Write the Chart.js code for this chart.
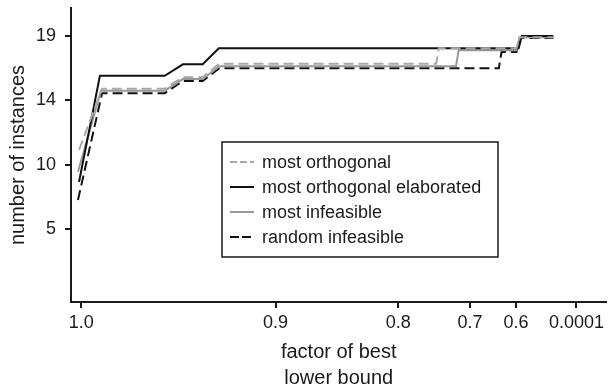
<!DOCTYPE html>
<html>
<head>
<meta charset="utf-8">
<script src="https://cdn.jsdelivr.net/npm/chart.js@4/dist/chart.umd.min.js"></script>
<style>
  html, body { margin: 0; padding: 0; background: #fff; }
  canvas { display: block; }
</style>
</head>
<body>
<canvas id="chart" width="608" height="388"></canvas>
<script>
// x axis: relative position along the bound-factor axis (0..100), labelled with factors
const xTickPos = [1.9, 38.2, 61.1, 74.5, 83.1, 94.4];
const xTickLabels = ['1.0', '0.9', '0.8', '0.7', '0.6', '0.0001'];

// y axis: evenly spaced tick rows labelled with instance counts
const yTickPos = [10, 20, 30, 40];
const yTickLabels = ['5', '10', '14', '19'];

// most orthogonal (grey, dashed)
const orthX = [1.5, 5.8, 17.5, 20.9, 24.6, 27.7, 68.2, 68.7, 83.2, 83.8, 90.1];
const orthY = [22.3, 31.8, 31.8, 33.6, 33.6, 35.7, 35.7, 38.1, 38.1, 39.8, 39.8];

// most orthogonal elaborated (black, solid)
const elabX = [1.5, 5.4, 17.5, 20.9, 24.6, 27.6, 83.6, 84.2, 90.1];
const elabY = [17.3, 33.8, 33.8, 35.6, 35.6, 38.1, 38.1, 40.0, 40.0];

// most infeasible (grey, solid)
const infX = [1.3, 5.6, 17.5, 20.9, 24.6, 27.7, 71.9, 72.4, 83.2, 83.8, 90.1];
const infY = [18.9, 31.5, 31.5, 33.3, 33.3, 35.3, 35.3, 37.8, 37.8, 39.8, 39.8];

// random infeasible (black, dashed)
const randX = [1.3, 5.8, 17.5, 20.9, 24.6, 27.7, 79.9, 80.4, 83.2, 83.8, 90.1];
const randY = [14.5, 31.1, 31.1, 33.0, 33.0, 35.0, 35.0, 37.5, 37.5, 39.7, 39.7];

const toPoints = (xs, ys) => xs.map((x, i) => ({ x: x, y: ys[i] }));

const INK = '#1a1a1a';
Chart.defaults.font.family = "'Liberation Sans', Arial, Helvetica, sans-serif";
Chart.defaults.color = INK;

// boxed legend drawn inside the plot area
const boxLegend = {
    id: 'boxLegend',
    afterDatasetsDraw(chart) {
        const { ctx, chartArea } = chart;
        const left = chartArea.left + 151;
        const top = chartArea.top + 134;
        const w = 276, h = 115;
        ctx.save();
        ctx.fillStyle = '#fff';
        ctx.fillRect(left, top, w, h);
        ctx.strokeStyle = INK;
        ctx.lineWidth = 1.5;
        ctx.strokeRect(left, top, w, h);
        ctx.font = "18px 'Liberation Sans', Arial, sans-serif";
        ctx.textBaseline = 'middle';
        ctx.fillStyle = INK;
        chart.data.datasets.forEach((ds, i) => {
            const y = top + 20 + i * 25;
            ctx.beginPath();
            ctx.setLineDash(ds.legendDash || []);
            ctx.strokeStyle = ds.borderColor;
            ctx.lineWidth = ds.borderWidth;
            ctx.moveTo(left + 8, y);
            ctx.lineTo(left + 32, y);
            ctx.stroke();
            ctx.setLineDash([]);
            ctx.fillText(ds.label, left + 40, y + 1);
        });
        ctx.restore();
    }
};

new Chart(document.getElementById('chart'), {
    type: 'line',
    data: {
        datasets: [
            {
                label: 'most orthogonal',
                data: toPoints(orthX, orthY),
                borderColor: '#a8a8a8',
                borderDash: [10, 5],
                legendDash: [7, 3],
                borderWidth: 2
            },
            {
                label: 'most orthogonal elaborated',
                data: toPoints(elabX, elabY),
                borderColor: '#111111',
                borderWidth: 2
            },
            {
                label: 'most infeasible',
                data: toPoints(infX, infY),
                borderColor: '#989898',
                borderWidth: 2
            },
            {
                label: 'random infeasible',
                data: toPoints(randX, randY),
                borderColor: '#111111',
                borderDash: [10, 5],
                legendDash: [9, 3],
                borderWidth: 2
            }
        ]
    },
    options: {
        responsive: false,
        animation: false,
        layout: { padding: { top: 8, right: 0, left: 0, bottom: 0 } },
        elements: {
            point: { radius: 0 },
            line: { tension: 0, borderCapStyle: 'butt' }
        },
        plugins: {
            legend: { display: false },
            tooltip: { enabled: false }
        },
        scales: {
            x: {
                type: 'linear',
                min: 0,
                max: 100,
                afterBuildTicks: (scale) => {
                    scale.ticks = xTickPos.map(v => ({ value: v }));
                },
                afterFit: (scale) => { scale.height = 86; },
                ticks: {
                    autoSkip: false,
                    maxRotation: 0,
                    padding: 4,
                    font: { size: 18 },
                    callback: (value, index) => xTickLabels[index]
                },
                grid: {
                    drawOnChartArea: false,
                    drawTicks: true,
                    tickLength: 6,
                    color: INK,
                    lineWidth: 2
                },
                border: { display: true, color: INK, width: 2 },
                title: {
                    display: true,
                    text: ['factor of best', 'lower bound'],
                    font: { size: 20, lineHeight: 1.3 },
                    padding: { top: 0, bottom: -3 }
                }
            },
            y: {
                type: 'linear',
                min: -1.35,
                max: 44.35,
                afterBuildTicks: (scale) => {
                    scale.ticks = yTickPos.map(v => ({ value: v }));
                },
                afterFit: (scale) => {
                    scale.width = 71;
                    scale.paddingTop = 0;
                    scale.paddingBottom = 0;
                },
                ticks: {
                    autoSkip: false,
                    padding: 9,
                    font: { size: 18 },
                    callback: (value, index) => yTickLabels[index]
                },
                grid: {
                    drawOnChartArea: false,
                    drawTicks: true,
                    tickLength: 6,
                    color: INK,
                    lineWidth: 2
                },
                border: { display: true, color: INK, width: 2 },
                title: {
                    display: true,
                    text: 'number of instances',
                    font: { size: 20 },
                    padding: { top: 6, bottom: 0 }
                }
            }
        }
    },
    plugins: [boxLegend]
});
</script>
</body>
</html>
